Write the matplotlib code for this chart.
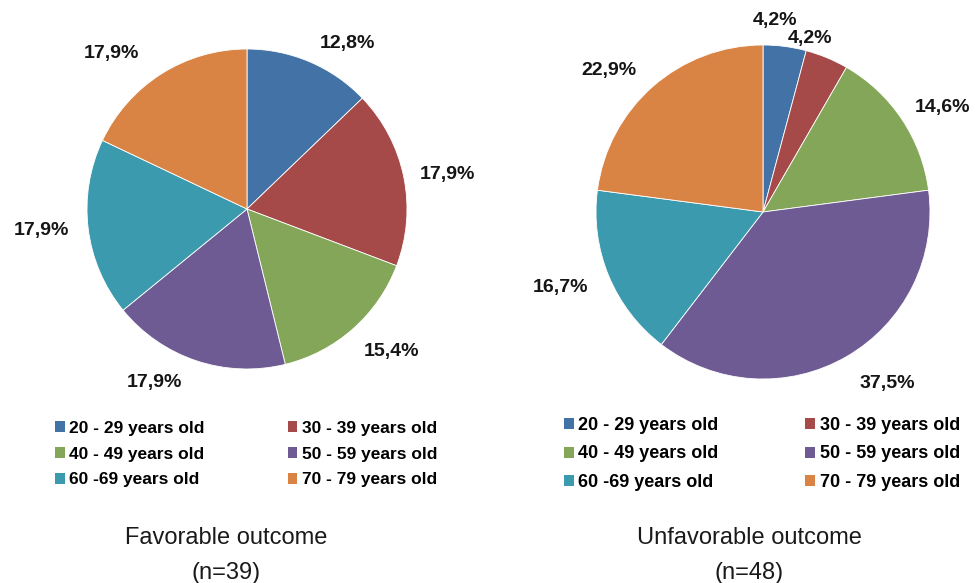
import matplotlib.pyplot as plt
from matplotlib.patches import Patch
import numpy as np

plt.rcParams['font.family'] = ['Liberation Sans', 'DejaVu Sans']

age_groups = ["20 - 29 years old", "30 - 39 years old", "40 - 49 years old",
              "50 - 59 years old", "60 -69 years old", "70 - 79 years old"]
favorable = [5, 7, 6, 7, 7, 7]        # n=39
unfavorable = [2, 2, 7, 18, 8, 11]    # n=48
colors = ["#4272A6", "#A54A49", "#84A659", "#6F5B93", "#3B9AAE", "#D98444"]

W, H = 977, 583
fig = plt.figure(figsize=(W / 100, H / 100), dpi=100)


def pct_fmt(p):
    return f"{p:.1f}%".replace(".", ",")


def draw_pie(values, cx, cy, r, label_dist, label_turn, title, n, title_x, leg_size):
    s = 1.4 * r
    ax = fig.add_axes([(cx - s) / W, 1 - (cy + s) / H, 2 * s / W, 2 * s / H])
    wedges, _, autotexts = ax.pie(values, colors=colors, startangle=90,
                                  counterclock=False, autopct=pct_fmt,
                                  pctdistance=1.26,
                                  wedgeprops=dict(linewidth=0.6, edgecolor="white"),
                                  textprops=dict(fontsize=14, fontweight="bold",
                                                 color="#151515"))
    # nudge labels around the slice middle like Excel's "best fit"
    for w, t, d, turn in zip(wedges, autotexts, label_dist, label_turn):
        ang = np.deg2rad((w.theta1 + w.theta2) / 2 + turn)
        t.set_position((d * np.cos(ang), d * np.sin(ang) - 0.012))
    ax.set_xlim(-1.4, 1.4)
    ax.set_ylim(-1.4, 1.4)
    order = [0, 2, 4, 1, 3, 5]
    handles = [Patch(facecolor=colors[i], label=age_groups[i]) for i in order]
    fig.legend(handles=handles, ncol=2, loc="center",
               bbox_to_anchor=((cx - 1) / W, 1 - 454 / H), frameon=False,
               prop=dict(size=leg_size, weight="bold"), handlelength=0.55,
               handleheight=0.55, handletextpad=0.25, columnspacing=4.8,
               labelspacing=0.63, borderpad=0)
    fig.text(title_x / W, 1 - 538 / H, title, ha="center", va="center",
             fontsize=17, color="#1a1a1a")
    fig.text(title_x / W, 1 - 573 / H, f"(n={n})", ha="center", va="center",
             fontsize=17, color="#1a1a1a")


draw_pie(favorable, 247, 209, 160,
         [1.22, 1.275, 1.26, 1.22, 1.29, 1.3],
         [-8, -1.3, 4.4, -9.8, -1.4, 8.4],
         "Favorable outcome", 39, 226, 12.5)
draw_pie(unfavorable, 763, 212, 167,
         [1.16, 1.09, 1.25, 1.26, 1.29, 1.26],
         [4, 7.5, -3, 6.3, -2.5, 5.8],
         "Unfavorable outcome", 48, 749, 13)

fig.savefig("out.png", dpi=100)
